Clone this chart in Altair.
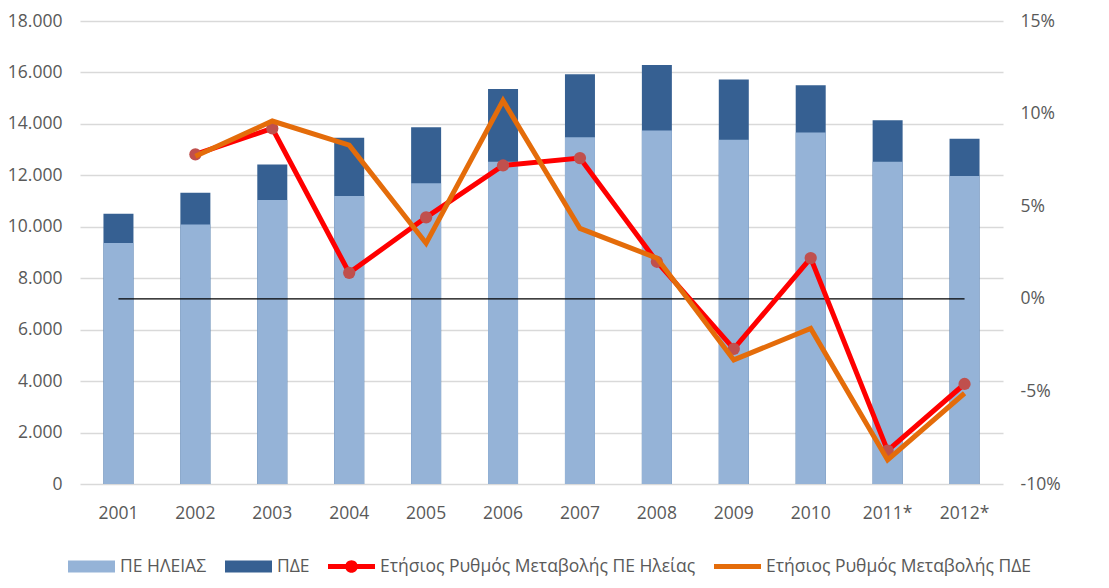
import altair as alt
import pandas as pd

years = ["2001", "2002", "2003", "2004", "2005", "2006", "2007", "2008", "2009", "2010", "2011*", "2012*"]
pde = [10510, 11320, 12420, 13460, 13870, 15360, 15930, 16290, 15730, 15500, 14140, 13420]
ilia = [9370, 10090, 11040, 11200, 11690, 12530, 13480, 13740, 13380, 13670, 12530, 11970]
rate_ilia = [None, 7.8, 9.2, 1.4, 4.4, 7.2, 7.6, 2.0, -2.7, 2.2, -8.2, -4.6]
rate_pde = [None, 7.7, 9.6, 8.3, 3.0, 10.7, 3.8, 2.2, -3.3, -1.6, -8.7, -5.1]

S_ILIA = "ΠΕ ΗΛΕΙΑΣ"
S_PDE = "ΠΔΕ"
S_R_ILIA = "Ετήσιος Ρυθμός Μεταβολής ΠΕ Ηλείας"
S_R_PDE = "Ετήσιος Ρυθμός Μεταβολής ΠΔΕ"
names = [S_ILIA, S_PDE, S_R_ILIA, S_R_PDE]
colors = ["#95B3D7", "#366092", "#FF0000", "#E46C0A"]

RECT = "M-1,-0.26L1,-0.26L1,0.26L-1,0.26Z"
LINE = "M-1,-0.11L1,-0.11L1,0.11L-1,0.11Z"
LINE_DOT = LINE + "M-0.27,0A0.27,0.27 0 1,1 0.27,0A0.27,0.27 0 1,1 -0.27,0Z"
shapes = [RECT, RECT, LINE_DOT, LINE]

TXT = "#595959"
FONT = "Open Sans"
FS = 17.5

bars_df = pd.DataFrame({
    "year": years + years,
    "series": [S_PDE] * len(years) + [S_ILIA] * len(years),
    "value": pde + ilia,
})

rows = []
for y, a, b in zip(years, rate_ilia, rate_pde):
    if a is not None:
        rows.append({"year": y, "series": S_R_ILIA, "rate": a / 100})
    if b is not None:
        rows.append({"year": y, "series": S_R_PDE, "rate": b / 100})
rates_df = pd.DataFrame(rows)
zero_df = pd.DataFrame({"year": years, "rate": [0.0] * len(years)})

x_enc = alt.X(
    "year:N", sort=years,
    scale=alt.Scale(paddingInner=0.61, paddingOuter=0.305),
    axis=alt.Axis(title=None, labelAngle=0, domain=False, ticks=False,
                  labelPadding=20, labelFontSize=FS, labelColor=TXT, labelFont=FONT),
)

color_scale = alt.Scale(domain=names, range=colors)
legend = alt.Legend(
    title=None, orient="none", legendX=-12, legendY=522, direction="horizontal",
    symbolSize=2209, symbolStrokeWidth=0, labelOffset=5, columnPadding=18,
    labelFontSize=FS, labelColor=TXT, labelFont=FONT, labelLimit=0,
)

y_left = alt.Y(
    "value:Q", stack=None,
    scale=alt.Scale(domain=[0, 18000], nice=False, zero=True),
    axis=alt.Axis(title=None, values=list(range(0, 18001, 2000)),
                  labelExpr="replace(format(datum.value, ','), ',', '.')",
                  grid=True, gridColor="#D9D9D9", gridWidth=1.3,
                  domain=False, ticks=False, labelPadding=18,
                  labelFontSize=FS, labelColor=TXT, labelFont=FONT),
)

y_right = alt.Y(
    "rate:Q",
    scale=alt.Scale(domain=[-0.10, 0.15], nice=False, zero=False),
    axis=alt.Axis(orient="right", title=None, values=[-0.10, -0.05, 0, 0.05, 0.10, 0.15],
                  labelExpr="replace(format(datum.value, '.0%'), '\u2212', '-')",
                  grid=False, domain=False, ticks=False, labelPadding=17,
                  labelFontSize=FS, labelColor=TXT, labelFont=FONT),
)

bars = alt.Chart(bars_df).mark_bar().encode(
    x=x_enc, y=y_left,
    color=alt.Color("series:N", scale=color_scale, legend=legend),
)

zero_line = alt.Chart(zero_df).mark_line(color="black", strokeWidth=1.2).encode(
    x=x_enc, y=y_right,
)

red_line = alt.Chart(rates_df).transform_filter(
    alt.datum.series == S_R_ILIA
).mark_line(strokeWidth=5).encode(
    x=x_enc, y=y_right,
    color=alt.Color("series:N", scale=color_scale, legend=legend),
)

red_pts = alt.Chart(rates_df).transform_filter(
    alt.datum.series == S_R_ILIA
).mark_circle(size=150, color="#C0504D", opacity=1).encode(
    x=x_enc, y=y_right,
)

orange_line = alt.Chart(rates_df).transform_filter(
    alt.datum.series == S_R_PDE
).mark_line(strokeWidth=5).encode(
    x=x_enc, y=y_right,
    color=alt.Color("series:N", scale=color_scale, legend=legend),
)

legend_layer = alt.Chart(rates_df).transform_filter("false").mark_point(
    filled=True, opacity=1
).encode(
    x=x_enc, y=y_right,
    color=alt.Color("series:N", scale=color_scale, legend=legend),
    shape=alt.Shape("series:N", scale=alt.Scale(domain=names, range=shapes), legend=legend),
)

lines = alt.layer(zero_line, red_line, red_pts, orange_line, legend_layer)

chart = alt.layer(bars, lines).resolve_scale(y="independent").properties(
    width=923, height=463,
    padding={"left": 72, "top": 13, "right": 98, "bottom": 96},
    autosize=alt.AutoSizeParams(type="none"),
).configure(font=FONT).configure_view(stroke=None)

chart.save("out.html", embed_options={"renderer": "svg", "actions": False})
